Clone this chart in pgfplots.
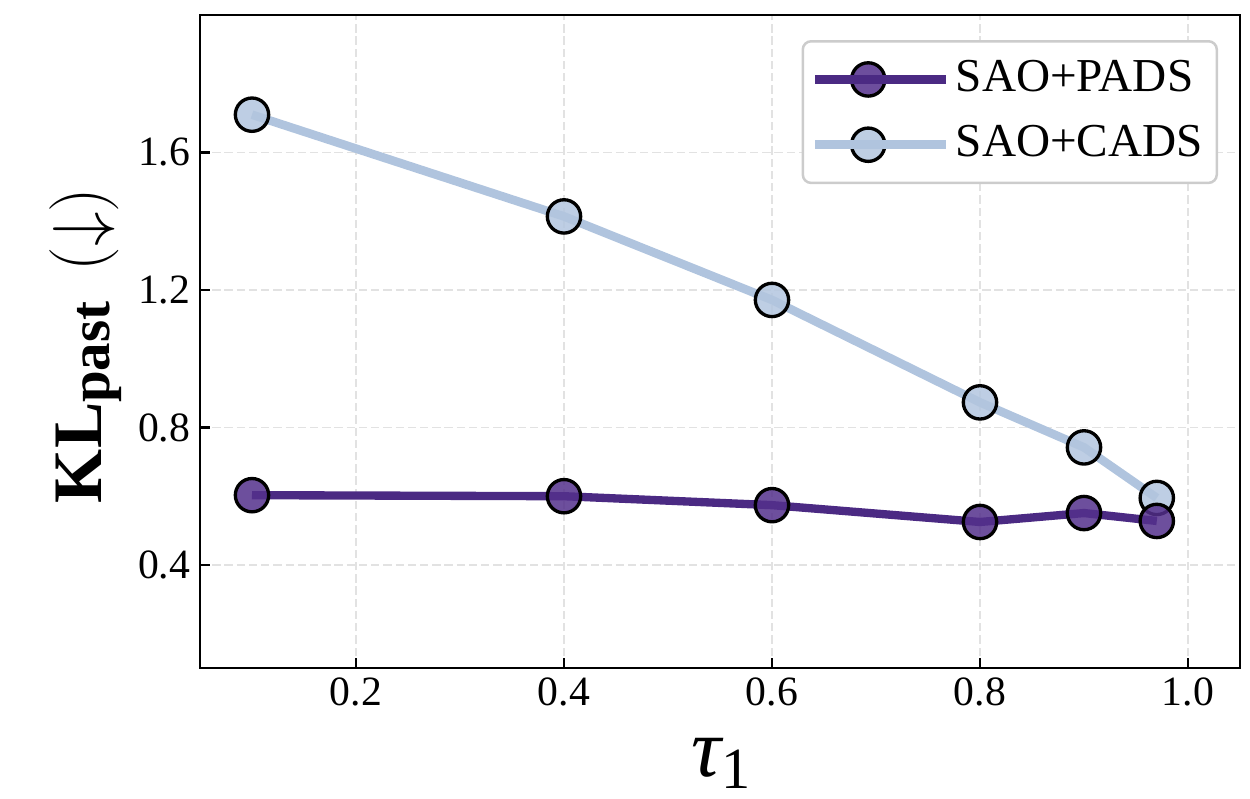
\documentclass[border=0pt]{standalone}
\usepackage{pgfplots}
\pgfplotsset{compat=1.18}
\usepackage{fontspec}
\setmainfont{Liberation Serif}
\definecolor{pads}{HTML}{4B2A83}
\definecolor{padsfill}{HTML}{54308C}
\definecolor{cads}{HTML}{B0C4DE}
\definecolor{cadsfill}{HTML}{B3C6DF}
\definecolor{gridc}{HTML}{E2E2E2}
\begin{document}
\begin{tikzpicture}
\begin{axis}[
  name=ax,
  scale only axis,
  width=374.4pt, height=235.1pt,
  xmin=0.05, xmax=1.05, ymin=0.1, ymax=2.0,
  xtick={0.2,0.4,0.6,0.8,1.0},
  ytick={0.4,0.8,1.2,1.6},
  tick align=inside,
  tick pos=left,
  major tick length=3.6pt,
  tick style={black, line width=0.8pt},
  axis line style={line width=0.8pt},
  grid=major,
  major grid style={gridc, dash pattern=on 3pt off 1.4pt, line width=0.5pt},
  /pgf/number format/fixed,
  /pgf/number format/fixed zerofill,
  /pgf/number format/precision=1,
  /pgf/number format/assume math mode=true,
  ticklabel style={font=\fontsize{15}{15}\selectfont},
  xlabel={{\fontsize{30}{30}\selectfont\itshape τ}\raisebox{-4.2pt}{\fontsize{21}{21}\selectfont 1}},
  xlabel style={at={(rel axis cs:0.501,-0.166)}, anchor=base, inner sep=0pt},
  ylabel={{\fontsize{25}{25}\selectfont\bfseries KL}\raisebox{-2.9pt}{\fontsize{20.5}{20.5}\selectfont\bfseries past}\hspace{10.8pt}{\fontsize{25}{25}\selectfont$(\downarrow)$}},
  ylabel style={at={(rel axis cs:-0.0943,0.494)}, anchor=base},
  legend cell align=left,
  reverse legend,
  legend image code/.code={\draw[mark repeat=2,mark phase=2] plot coordinates {(0pt,0pt) (19pt,0pt) (38pt,0pt)}; \path (0pt,0pt) -- (47pt,0pt);},
  legend style={at={(rel axis cs:1,1)}, anchor=north east, xshift=-7.9pt, yshift=-9pt,
    draw=black!20, line width=0.9pt, rounded corners=3pt,
    font=\fontsize{17}{17}\selectfont, inner xsep=3pt, inner ysep=4pt, row sep=4pt,
    nodes={inner sep=2pt, text height=12pt, text depth=3.5pt}},
]
\addplot[cads, line width=3.1pt, mark=*, mark size=6pt,
  mark options={fill=cadsfill, fill opacity=0.85, draw=black, line width=1.2pt}]
  coordinates {(0.1,1.71) (0.4,1.414) (0.6,1.171) (0.8,0.873) (0.9,0.742) (0.97,0.595)};
\addlegendentry{SAO+CADS}
\addplot[pads, line width=3pt, mark=*, mark size=6pt,
  mark options={fill=padsfill, fill opacity=0.85, draw=black, line width=1.2pt}]
  coordinates {(0.1,0.603) (0.4,0.600) (0.6,0.574) (0.8,0.525) (0.9,0.551) (0.97,0.528)};
\addlegendentry{SAO+PADS}
\end{axis}
\pgfresetboundingbox
\path[use as bounding box] ([shift={(-72pt,-46.8pt)}]ax.south west) rectangle ([shift={(3.6pt,5.4pt)}]ax.north east);
\end{tikzpicture}
\end{document}
